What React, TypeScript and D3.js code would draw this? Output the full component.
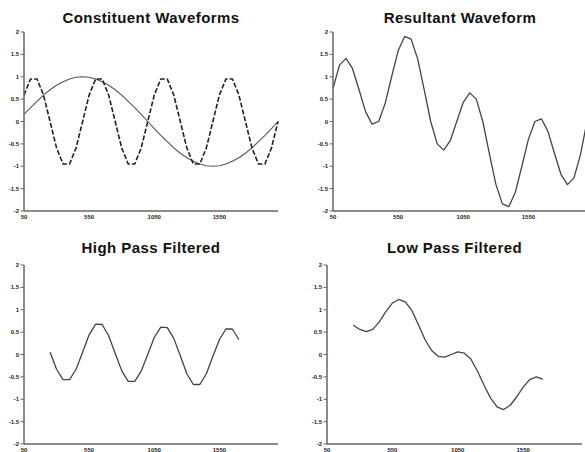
import React from "react";
import * as d3 from "d3";

// ---- data ----
const xFull = [50, 100, 150, 200, 250, 300, 350, 400, 450, 500, 550, 600, 650, 700, 750, 800, 850, 900, 950, 1000,
  1050, 1100, 1150, 1200, 1250, 1300, 1350, 1400, 1450, 1500, 1550, 1600, 1650, 1700, 1750, 1800, 1850, 1900, 1950, 2000];

const slowWave = [0.16, 0.31, 0.45, 0.59, 0.71, 0.81, 0.89, 0.95, 0.99, 1.0, 0.99, 0.95, 0.89, 0.81, 0.71, 0.59, 0.45, 0.31, 0.16, 0,
  -0.16, -0.31, -0.45, -0.59, -0.71, -0.81, -0.89, -0.95, -0.99, -1.0, -0.99, -0.95, -0.89, -0.81, -0.71, -0.59, -0.45, -0.31, -0.16, 0];

const fastWave = [0.59, 0.95, 0.95, 0.59, 0, -0.59, -0.95, -0.95, -0.59, 0,
  0.59, 0.95, 0.95, 0.59, 0, -0.59, -0.95, -0.95, -0.59, 0,
  0.59, 0.95, 0.95, 0.59, 0, -0.59, -0.95, -0.95, -0.59, 0,
  0.59, 0.95, 0.95, 0.59, 0, -0.59, -0.95, -0.95, -0.59, 0];

const resultant = [0.74, 1.26, 1.41, 1.18, 0.71, 0.22, -0.06, 0.0, 0.40, 1.0, 1.58, 1.90, 1.84, 1.40, 0.71, 0.0, -0.50, -0.64, -0.43, 0,
  0.43, 0.64, 0.50, 0, -0.71, -1.40, -1.84, -1.90, -1.58, -1.0, -0.40, 0, 0.06, -0.22, -0.71, -1.18, -1.41, -1.26, -0.74, 0];

const xFiltered = [250, 300, 350, 400, 450, 500, 550, 600, 650, 700, 750, 800, 850, 900, 950, 1000,
  1050, 1100, 1150, 1200, 1250, 1300, 1350, 1400, 1450, 1500, 1550, 1600, 1650, 1700];

const highPass = [0.05, -0.33, -0.56, -0.56, -0.33, 0.05, 0.44, 0.68, 0.67, 0.42, 0.03, -0.36, -0.6, -0.6, -0.37, 0.0,
  0.38, 0.61, 0.6, 0.36, -0.03, -0.43, -0.67, -0.67, -0.43, -0.04, 0.33, 0.57, 0.57, 0.33];

const lowPass = [0.66, 0.56, 0.51, 0.56, 0.73, 0.96, 1.15, 1.23, 1.17, 0.98, 0.66, 0.33, 0.09, -0.04, -0.06, 0.0,
  0.06, 0.03, -0.1, -0.37, -0.68, -0.97, -1.17, -1.23, -1.14, -0.95, -0.73, -0.56, -0.5, -0.55];

const yTicks = [2, 1.5, 1, 0.5, 0, -0.5, -1, -1.5, -2];
const yTickLabels = ["2", "1.5", "1", "0.5", "0", "-0.5", "-1", "-1.5", "-2"];
const xTicks = [50, 550, 1050, 1550];
const xTickLabels = ["50", "550", "1050", "1550"];

const titles = ["Constituent Waveforms", "Resultant Waveform", "High Pass Filtered", "Low Pass Filtered"];

type Series = { xs: number[]; ys: number[]; dashed?: boolean; color: string; width: number };

const FONT = "'Liberation Sans', Arial, Helvetica, sans-serif";

function Panel({ x0, x1, yTop, yBottom, title, titleY, series }: {
  x0: number; x1: number; yTop: number; yBottom: number; title: string; titleY: number; series: Series[];
}) {
  const x = d3.scaleLinear().domain([50, 2000]).range([x0, x1]);
  const y = d3.scaleLinear().domain([-2, 2]).range([yBottom, yTop]);
  const line = d3.line<[number, number]>().x((d) => x(d[0])).y((d) => y(d[1]));
  return (
    <g>
      <text x={(x0 + x1) / 2} y={titleY} textAnchor="middle" fontFamily={FONT} fontWeight="bold" fontSize={15}
        letterSpacing={0.45} fill="#111">
        {title}
      </text>
      {series.map((s, i) => (
        <path
          key={i}
          d={line(s.xs.map((v, j) => [v, s.ys[j]] as [number, number])) || ""}
          fill="none"
          stroke={s.color}
          strokeWidth={s.width}
          strokeDasharray={s.dashed ? "5,2" : undefined}
          strokeLinejoin="round"
        />
      ))}
      <line x1={x0} x2={x0} y1={yTop} y2={yBottom} stroke="#666" strokeWidth={1.5} />
      <line x1={x0} x2={x1} y1={yBottom} y2={yBottom} stroke="#666" strokeWidth={1.5} />
      {yTicks.map((t, i) => (
        <g key={t}>
          <line x1={x0 - 3.5} x2={x0} y1={y(t)} y2={y(t)} stroke="#666" strokeWidth={1} />
          <text x={x0 - 5} y={y(t)} dy="0.35em" textAnchor="end" fontFamily={FONT} fontWeight="bold" fontSize={6} fill="#222">
            {yTickLabels[i]}
          </text>
        </g>
      ))}
      {xTicks.map((t, i) => (
        <text key={t} x={x(t)} y={yBottom + 8} textAnchor="middle" fontFamily={FONT} fontWeight="bold" fontSize={6} fill="#222">
          {xTickLabels[i]}
        </text>
      ))}
    </g>
  );
}

export default function App() {
  return (
    <svg width={585} height={452} style={{ position: "absolute", left: 0, top: 0, background: "#fff" }}>
      <rect width={585} height={452} fill="#fff" />
      <Panel x0={24} x1={278} yTop={32} yBottom={211} title={titles[0]} titleY={22.7}
        series={[
          { xs: xFull, ys: slowWave, color: "#555", width: 1.1 },
          { xs: xFull, ys: fastWave, color: "#222", width: 1.6, dashed: true },
        ]} />
      <Panel x0={333} x1={587} yTop={32} yBottom={211} title={titles[1]} titleY={22.7}
        series={[{ xs: xFull, ys: resultant, color: "#444", width: 1.3 }]} />
      <Panel x0={24} x1={278} yTop={265} yBottom={444} title={titles[2]} titleY={252.9}
        series={[{ xs: xFiltered, ys: highPass, color: "#444", width: 1.3 }]} />
      <Panel x0={327} x1={582} yTop={265} yBottom={444} title={titles[3]} titleY={252.9}
        series={[{ xs: xFiltered, ys: lowPass, color: "#444", width: 1.3 }]} />
    </svg>
  );
}
